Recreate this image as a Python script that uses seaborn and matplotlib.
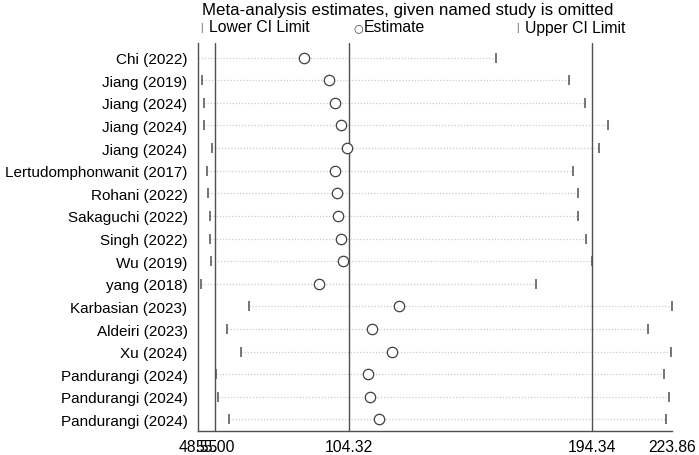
import matplotlib
matplotlib.use("Agg")
import matplotlib.pyplot as plt
import seaborn as sns
import pandas as pd

# values
studies = ["Chi (2022)", "Jiang (2019)", "Jiang (2024)", "Jiang (2024)", "Jiang (2024)",
           "Lertudomphonwanit (2017)", "Rohani (2022)", "Sakaguchi (2022)", "Singh (2022)",
           "Wu (2019)", "yang (2018)", "Karbasian (2023)", "Aldeiri (2023)", "Xu (2024)",
           "Pandurangi (2024)", "Pandurangi (2024)", "Pandurangi (2024)"]
estimate = [87.8, 97.0, 99.2, 101.3, 103.5, 99.2, 100.1, 100.4, 101.3, 102.2,
            93.2, 123.0, 112.9, 120.3, 111.4, 112.2, 115.5]
lower_ci = [48.55, 50.2, 50.8, 50.7, 53.8, 51.9, 52.4, 52.8, 53.1, 53.3,
            49.6, 67.5, 59.1, 64.6, 55.3, 55.8, 60.0]
upper_ci = [158.7, 185.5, 191.7, 200.1, 196.6, 187.2, 189.0, 189.0, 191.8, 194.3,
            173.3, 223.86, 214.9, 223.5, 220.7, 222.8, 221.6]

# pooled estimate and its CI
pooled = [55.00, 104.32, 194.34]
xticks = [48.55, 55.00, 104.32, 194.34, 223.86]
xtick_labels = ["48.55", "55.00", "104.32", "194.34", "223.86"]

df = pd.DataFrame({"study": studies, "est": estimate, "lo": lower_ci, "hi": upper_ci})
df["row"] = range(len(df))

sns.set_style("white")
plt.rcParams["font.family"] = ["Liberation Sans", "DejaVu Sans"]
plt.rcParams["text.color"] = "black"
plt.rcParams["xtick.labelcolor"] = "black"
plt.rcParams["ytick.labelcolor"] = "black"

fig = plt.figure(figsize=(6.99, 4.56), dpi=100)
ax = fig.add_axes([0.2833, 0.0526, 0.9618 - 0.2833, 0.9046 - 0.0526])

# dotted lines between the CI limits
ax.hlines(df["row"], df["lo"], df["hi"], colors="#cccccc", linestyles=(0, (1, 1.5)),
          linewidth=0.9, zorder=1)

# pooled lines
for v in pooled:
    ax.axvline(v, color="#505050", linewidth=1.0, zorder=2)

sns.scatterplot(data=df, x="lo", y="row", marker="|", s=60, color="#505050",
                linewidth=1.1, ax=ax, zorder=3, legend=False)
sns.scatterplot(data=df, x="hi", y="row", marker="|", s=60, color="#505050",
                linewidth=1.1, ax=ax, zorder=3, legend=False)
sns.scatterplot(data=df, x="est", y="row", marker="o", s=56, facecolor="white",
                edgecolor="#404040", linewidth=0.9, ax=ax, zorder=4, legend=False)

ax.set_xlim(48.55, 223.86)
ax.set_ylim(16.51, -0.67)
ax.set_xticks(xticks)
ax.set_xticklabels(xtick_labels, fontsize=11.3)
ax.set_yticks(df["row"])
ax.set_yticklabels(studies, fontsize=11.0)
ax.tick_params(axis="x", direction="out", length=5, width=1.0, color="#505050", pad=1)
ax.tick_params(axis="y", length=0, pad=7.5)
ax.set_xlabel("")
ax.set_ylabel("")

for side in ["top", "right"]:
    ax.spines[side].set_visible(False)
for side in ["left", "bottom"]:
    ax.spines[side].set_color("#505050")
    ax.spines[side].set_linewidth(1.0)

# title and legend row
fig.text(202 / 699, 1 - 10 / 456, "Meta-analysis estimates, given named study is omitted",
         fontsize=12.2, va="center", ha="left")
fig.text(201 / 699, 1 - 28 / 456, "|", fontsize=7, va="center", ha="center", color="#505050")
fig.text(209 / 699, 1 - 28 / 456, "Lower CI Limit", fontsize=11.3, va="center", ha="left")
fig.text(358 / 699, 1 - 28 / 456, "○", fontsize=8, va="center", ha="center", color="#404040",
         family=["DejaVu Sans"])
fig.text(364 / 699, 1 - 28 / 456, "Estimate", fontsize=11.3, va="center", ha="left")
fig.text(517 / 699, 1 - 28 / 456, "|", fontsize=7, va="center", ha="center", color="#505050")
fig.text(525 / 699, 1 - 28 / 456, "Upper CI Limit", fontsize=11.3, va="center", ha="left")

fig.savefig("out.png", dpi=100)
